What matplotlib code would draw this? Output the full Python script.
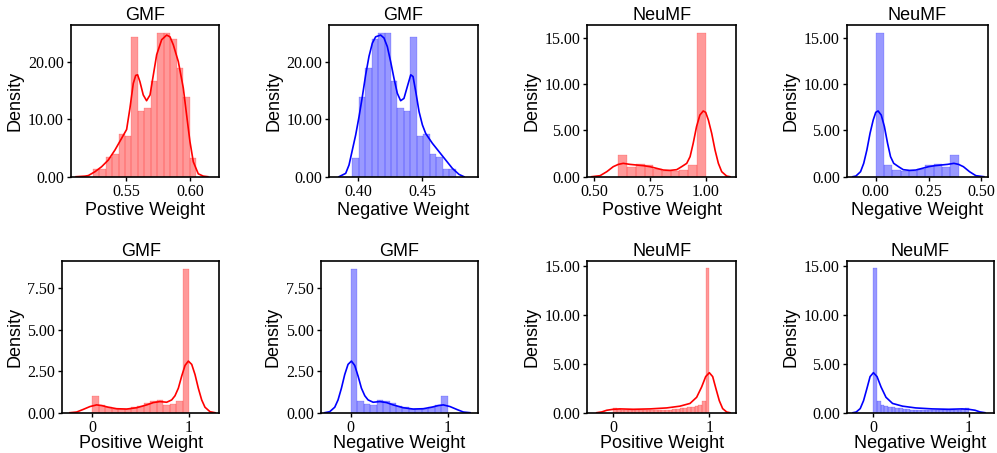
import numpy as np
import matplotlib
matplotlib.use('Agg')
import matplotlib.pyplot as plt
from matplotlib.ticker import FormatStrFormatter, FixedLocator

plt.rcParams['font.family'] = 'Liberation Sans'

# ---- data (density histograms + kde lines) ----
titles = ['GMF', 'GMF', 'NeuMF', 'NeuMF', 'GMF', 'GMF', 'NeuMF', 'NeuMF']
xlabels = ['Postive Weight', 'Negative Weight', 'Postive Weight', 'Negative Weight',
           'Positive Weight', 'Negative Weight', 'Positive Weight', 'Negative Weight']
colors = ['red', 'blue', 'red', 'blue', 'red', 'blue', 'red', 'blue']

# histogram range (first / last bin edge) and bar heights
bin_lo = [0.5240, 0.3952, 0.6077, 0.0, 0.0, 0.0, 0.0, 0.0]
bin_hi = [0.6048, 0.4760, 1.0, 0.3923, 1.0, 1.0, 1.0, 1.0]

h_gmf_pos = [1.3, 1.4, 3.4, 4.0, 7.4, 7.0, 24.2, 11.4, 12.0, 16.6, 25.0, 24.9, 24.0, 18.8, 13.9, 3.2]
h_gmf_neg = [3.2, 13.9, 18.8, 24.0, 24.9, 25.0, 16.6, 12.0, 11.4, 24.2, 7.0, 7.4, 4.0, 3.4, 1.4, 1.3]
h_neu_pos = [2.35, 1.05, 1.35, 1.3, 0.8, 0.65, 0.65, 0.7, 1.25, 15.5]
h_neu_neg = [15.5, 1.25, 0.7, 0.65, 0.65, 0.8, 1.3, 1.35, 1.05, 2.35]
h_gmf_pos2 = [0.98, 0.47, 0.33, 0.24, 0.2, 0.22, 0.33, 0.4, 0.57, 0.73, 0.77, 0.47, 0.53, 0.71, 8.64]
h_gmf_neg2 = [8.64, 0.71, 0.53, 0.47, 0.77, 0.73, 0.57, 0.4, 0.33, 0.22, 0.2, 0.24, 0.33, 0.47, 0.98]
h_neu_pos2 = [0.45, 0.35, 0.3, 0.3, 0.28, 0.28, 0.25, 0.25, 0.25, 0.25, 0.25, 0.28, 0.28, 0.3, 0.3,
              0.32, 0.35, 0.4, 0.45, 0.5, 0.55, 0.6, 0.7, 0.75, 1.2, 14.8]
h_neu_neg2 = h_neu_pos2[::-1]

# kde curves (x, density)
k1x = [0.511, 0.518, 0.5206, 0.5258, 0.5310, 0.5362, 0.5414, 0.5466, 0.5505, 0.5531, 0.5557, 0.5576,
       0.5591, 0.5609, 0.5635, 0.5661, 0.5688, 0.5714, 0.5740, 0.5779, 0.5818, 0.5844, 0.5870, 0.5909,
       0.5948, 0.5974, 0.6000, 0.6026, 0.6065, 0.6104, 0.614]
k1y = [0.0, 0.1, 0.2, 0.87, 1.74, 2.9, 4.64, 6.67, 8.2, 11.9, 16.2, 17.6,
       17.7, 16.5, 14.2, 13.2, 14.2, 17.7, 21.2, 23.8, 24.6, 24.3, 22.9, 20.0,
       15.4, 10.7, 6.1, 2.6, 0.5, 0.1, 0.0]
k2x = [0.3849, 0.3901, 0.3927, 0.3953, 0.3979, 0.4005, 0.4031, 0.4057, 0.4083, 0.4109, 0.4135,
       0.4174, 0.4200, 0.4226, 0.4252, 0.4278, 0.4304, 0.4330, 0.4356, 0.4383, 0.4409, 0.4427,
       0.4448, 0.4474, 0.4500, 0.4526, 0.4578, 0.4630, 0.4682, 0.4734, 0.4786, 0.4825]
k2y = [0.0, 0.58, 2.03, 4.64, 7.25, 10.4, 13.9, 17.7, 20.9, 23.2, 24.3,
       24.6, 24.1, 22.6, 20.0, 17.1, 14.5, 13.2, 13.6, 15.7, 17.7, 17.4,
       14.8, 11.3, 9.0, 7.5, 5.8, 4.35, 2.9, 1.45, 0.4, 0.0]
k3x = [0.488, 0.526, 0.556, 0.585, 0.608, 0.630, 0.660, 0.690, 0.720, 0.750, 0.780, 0.810, 0.840,
       0.870, 0.892, 0.915, 0.930, 0.944, 0.959, 0.974, 0.989, 1.000, 1.012, 1.027, 1.042, 1.057,
       1.072, 1.094, 1.109]
k3y = [0.0, 0.11, 0.54, 1.08, 1.33, 1.44, 1.33, 1.26, 1.19, 1.08, 0.9, 0.72, 0.68,
       0.76, 1.08, 1.44, 2.16, 3.6, 5.4, 6.65, 7.09, 6.94, 6.12, 4.68, 2.88, 1.44,
       0.54, 0.07, 0.0]
k4x = [-0.109, -0.094, -0.072, -0.057, -0.042, -0.027, -0.012, 0.000, 0.011, 0.026, 0.041, 0.056,
       0.070, 0.085, 0.108, 0.130, 0.160, 0.190, 0.220, 0.250, 0.280, 0.310, 0.340, 0.370, 0.392,
       0.415, 0.444, 0.474, 0.512]
k4y = [0.0, 0.07, 0.54, 1.44, 2.88, 4.68, 6.12, 6.94, 7.09, 6.65, 5.4, 3.6,
       2.16, 1.44, 1.08, 0.76, 0.68, 0.72, 0.9, 1.08, 1.19, 1.26, 1.33, 1.44, 1.33,
       1.08, 0.54, 0.11, 0.0]
k5x = [-0.231, -0.162, -0.093, -0.024, 0.045, 0.097, 0.166, 0.252, 0.355, 0.459, 0.562, 0.631,
       0.700, 0.769, 0.821, 0.855, 0.890, 0.924, 0.959, 0.993, 1.028, 1.062, 1.096, 1.131, 1.165,
       1.217, 1.269]
k5y = [0.0, 0.04, 0.2, 0.37, 0.47, 0.43, 0.33, 0.24, 0.22, 0.3, 0.47, 0.61,
       0.67, 0.63, 0.77, 1.02, 1.48, 2.2, 2.85, 3.11, 2.91, 2.3, 1.48, 0.77, 0.33,
       0.06, 0.0]
k6x = [-0.269, -0.217, -0.165, -0.131, -0.096, -0.062, -0.028, 0.007, 0.041, 0.076, 0.110, 0.145,
       0.179, 0.231, 0.300, 0.369, 0.438, 0.541, 0.645, 0.748, 0.834, 0.903, 0.955, 1.024, 1.093,
       1.162, 1.231]
k6y = [0.0, 0.06, 0.33, 0.77, 1.48, 2.3, 2.91, 3.11, 2.85, 2.2, 1.48, 1.02,
       0.77, 0.63, 0.67, 0.61, 0.47, 0.3, 0.22, 0.24, 0.33, 0.43, 0.47, 0.37, 0.2,
       0.04, 0.0]
k7x = [-0.173, -0.12, -0.069, 0.0, 0.069, 0.208, 0.382, 0.556, 0.694, 0.799, 0.868, 0.920, 0.962,
       1.0, 1.035, 1.069, 1.104, 1.139, 1.181, 1.215]
k7y = [0.0, 0.08, 0.25, 0.35, 0.39, 0.35, 0.39, 0.49, 0.67, 0.95, 1.58, 2.64, 3.7,
       4.1, 3.7, 2.46, 1.23, 0.42, 0.07, 0.0]
k8x = [-0.215, -0.181, -0.139, -0.104, -0.069, -0.035, 0.0, 0.038, 0.080, 0.132, 0.201, 0.306,
       0.444, 0.618, 0.792, 0.931, 1.0, 1.069, 1.12, 1.173]
k8y = [0.0, 0.07, 0.42, 1.23, 2.46, 3.7, 4.1, 3.7, 2.64, 1.58, 0.95, 0.67,
       0.49, 0.39, 0.35, 0.39, 0.35, 0.25, 0.08, 0.0]

heights = [h_gmf_pos, h_gmf_neg, h_neu_pos, h_neu_neg, h_gmf_pos2, h_gmf_neg2, h_neu_pos2, h_neu_neg2]
kde_x = [k1x, k2x, k3x, k4x, k5x, k6x, k7x, k8x]
kde_y = [k1y, k2y, k3y, k4y, k5y, k6y, k7y, k8y]

# axis ranges and ticks
xlims = [(0.5068, 0.6227), (0.3773, 0.4932), (0.4686, 1.1375), (-0.1375, 0.5314),
         (-0.31, 1.31), (-0.31, 1.31), (-0.271, 1.281), (-0.281, 1.271)]
ylims = [26.3, 26.3, 16.33, 16.33, 9.14, 9.14, 15.55, 15.55]
xticks = [[0.55, 0.60], [0.40, 0.45], [0.50, 0.75, 1.00], [0.00, 0.25, 0.50],
          [0, 1], [0, 1], [0, 1], [0, 1]]
xfmts = ['%.2f', '%.2f', '%.2f', '%.2f', '%d', '%d', '%d', '%d']
yticks = [[0, 10, 20], [0, 10, 20], [0, 5, 10, 15], [0, 5, 10, 15],
          [0, 2.5, 5, 7.5], [0, 2.5, 5, 7.5], [0, 5, 10, 15], [0, 5, 10, 15]]

# axes boxes in pixels: left, right, top, bottom
W, H = 997, 453
boxes = [(70.7, 219, 25.3, 176.7), (329.3, 477.7, 25.3, 176.7),
         (587.3, 736.3, 25.3, 176.7), (846.7, 988, 25.3, 176.7),
         (62.3, 219, 261, 412.7), (320.7, 477.7, 261, 412.7),
         (587.3, 736.3, 261, 412.7), (846.7, 994.3, 261, 412.7)]


def draw_panel(ax, i):
    c = colors[i]
    h = np.array(heights[i])
    edges = np.linspace(bin_lo[i], bin_hi[i], len(h) + 1)
    ax.bar(edges[:-1], h, width=np.diff(edges), align='edge', color=c, alpha=0.4,
           edgecolor=c, linewidth=0.3)
    ax.plot(kde_x[i], kde_y[i], color=c, linewidth=1.2)
    ax.set_xlim(*xlims[i])
    ax.set_ylim(0, ylims[i])
    ax.xaxis.set_major_locator(FixedLocator(xticks[i]))
    ax.yaxis.set_major_locator(FixedLocator(yticks[i]))
    ax.xaxis.set_major_formatter(FormatStrFormatter(xfmts[i]))
    ax.yaxis.set_major_formatter(FormatStrFormatter('%.2f'))
    ax.tick_params(length=3, width=1, labelsize=11.5, pad=2)
    for lab in ax.get_xticklabels() + ax.get_yticklabels():
        lab.set_fontfamily('Liberation Serif')
    for s in ax.spines.values():
        s.set_linewidth(1.2)
    ax.set_title(titles[i], fontsize=13, pad=3.5)
    # bottom row labels sit a bit closer to the axis
    ax.set_xlabel(xlabels[i], fontsize=13, labelpad=2 if i < 4 else -0.5)
    ax.set_ylabel('Density', fontsize=13, labelpad=3)


fig = plt.figure(figsize=(W / 100, H / 100), dpi=100)
for i, (l, r, t, b) in enumerate(boxes):
    ax = fig.add_axes([l / W, 1 - b / H, (r - l) / W, (b - t) / H])
    draw_panel(ax, i)

fig.savefig('out.png', dpi=100, facecolor='white')
